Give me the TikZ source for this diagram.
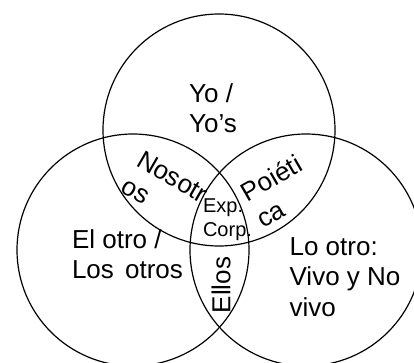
\documentclass[tikz,border=0pt]{standalone}
\usepackage{fontspec}
\setmainfont{Liberation Sans}
\tikzset{
  venn/.style={draw=black, line width=1.2pt},
  big/.style={inner sep=0pt, align=left, font=\fontsize{26}{30.5}\selectfont},
  small/.style={inner sep=0pt, align=left, font=\fontsize{20}{24}\selectfont}
}
\begin{document}
\begin{tikzpicture}[x=1pt,y=-1pt]
\useasboundingbox (0,0) rectangle (414,363);
\fill[white] (0,0) rectangle (414,363);
\clip (0,0) rectangle (414,363);
\coordinate (ct) at (219,130);
\coordinate (cl) at (133,250);
\coordinate (cr) at (306,250);
\draw[venn] (ct) circle[radius=116];
\draw[venn] (cl) circle[radius=116];
\draw[venn] (cr) circle[radius=116];
\node[big] (yo) at (213,108) {Yo /\\Yo’s};
\node[big] (otro) at (127.5,254) {El otro /\\Los\hspace{4pt} otros};
\node[big] (loo) at (345,277) {Lo otro:\\Vivo y No\\vivo};
\node[big, rotate=-30] (nos) at (165,190) {Nosotr\\os};
\node[big, rotate=30] (poi) at (279,191) {Poiéti\\ca};
\node[big, rotate=90] (ellos) at (221,285) {Ellos};
\node[small] (exp) at (227.5,220) {Exp.\\Corp.};
\end{tikzpicture}
\end{document}
